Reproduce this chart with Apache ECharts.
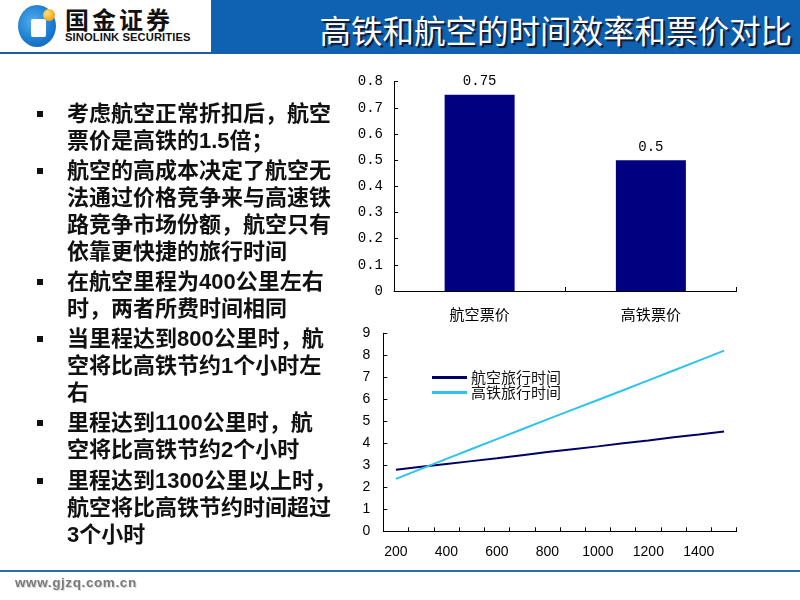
<!DOCTYPE html>
<html>
<head>
<meta charset="utf-8">
<script src="https://cdn.jsdelivr.net/npm/echarts@6/dist/echarts.min.js"></script>
<style>
  html, body { margin: 0; padding: 0; background: #fff; }
  #slide { position: relative; width: 800px; height: 600px; overflow: hidden; background: #fff; }
  #header-blue { position: absolute; left: 211px; top: 0; width: 589px; height: 53px; background: #0f62b2; }
  #header-line { position: absolute; left: 0; top: 52px; width: 800px; height: 2px; background: #1d5c9e; }
  #logo-box { position: absolute; left: 0; top: 0; width: 211px; height: 52px; background: #fff; }
  #title { position: absolute; right: 8px; top: 9px; color: #fff; font-family: "Noto Sans CJK SC", sans-serif; font-size: 31.5px; line-height: 40px; white-space: nowrap; text-shadow: 2px 2px 1px #15152a; }
  .logo-ring { position: absolute; left: 18px; top: 5px; width: 38px; height: 42px; border-radius: 50%; background: radial-gradient(circle at 40% 40%, #4fb0ec 0%, #1a78cf 60%, #0e5fb0 100%); }
  .logo-sq { position: absolute; left: 31px; top: 19px; width: 15px; height: 18px; background: #fff; border-radius: 2px; }
  .logo-dot { position: absolute; left: 43px; top: 9px; width: 12px; height: 12px; border-radius: 50%; background: radial-gradient(circle at 35% 35%, #ffe27a 0%, #f6a21a 70%, #e0860a 100%); }
  #logo-cn { position: absolute; left: 65px; top: 5px; font-family: "Noto Sans CJK SC", sans-serif; font-weight: bold; font-size: 24px; line-height: 28px; color: #111; letter-spacing: 3px; white-space: nowrap; }
  #logo-en { position: absolute; left: 65px; top: 32px; font-family: "Liberation Sans", Arial, sans-serif; font-weight: bold; font-size: 11.2px; line-height: 10px; color: #111; letter-spacing: 0.1px; white-space: nowrap; }
  #bullets { position: absolute; left: 0; top: 99.5px; width: 340px; font-family: "Liberation Sans", "Noto Sans CJK SC", sans-serif; font-weight: bold; font-size: 22px; line-height: 27px; color: #111; }
  .b { position: relative; padding-left: 67px; margin-bottom: 3px; white-space: nowrap; }
  .b::before { content: ""; position: absolute; left: 37px; top: 11px; width: 6px; height: 6px; background: #111; }
  .b.last { margin-top: 4px; }
  #footer-line { position: absolute; left: 0; top: 570px; width: 800px; height: 2px; background: #2a6ea6; }
  #footer-text { position: absolute; left: 15px; top: 575px; font-family: "Liberation Sans", Arial, sans-serif; font-weight: bold; font-size: 13.5px; line-height: 16px; color: #7a7a7a; letter-spacing: 0.6px; text-shadow: 1px 1px 0 #d8d8d8; }
  #chart { position: absolute; left: 0; top: 0; width: 800px; height: 600px; }
</style>
</head>
<body>
<div id="slide">
  <div id="chart"></div>
  <div id="header-line"></div>
  <div id="header-blue"></div>
  <div id="logo-box">
    <div class="logo-ring"></div>
    <div class="logo-sq"></div>
    <div class="logo-dot"></div>
    <div id="logo-cn">国金证券</div>
    <div id="logo-en">SINOLINK SECURITIES</div>
  </div>
  <div id="title">高铁和航空的时间效率和票价对比</div>
  <div id="bullets">
    <div class="b">考虑航空正常折扣后，航空<br>票价是高铁的1.5倍；</div>
    <div class="b">航空的高成本决定了航空无<br>法通过价格竞争来与高速铁<br>路竞争市场份额，航空只有<br>依靠更快捷的旅行时间</div>
    <div class="b">在航空里程为400公里左右<br>时，两者所费时间相同</div>
    <div class="b">当里程达到800公里时，航<br>空将比高铁节约1个小时左<br>右</div>
    <div class="b">里程达到1100公里时，航<br>空将比高铁节约2个小时</div>
    <div class="b last">里程达到1300公里以上时，<br>航空将比高铁节约时间超过<br>3个小时</div>
  </div>
  <div id="footer-line"></div>
  <div id="footer-text">www.gjzq.com.cn</div>
</div>
<script>
// ---- data ----
const priceCategories = ['航空票价', '高铁票价'];
const priceValues = [0.75, 0.5];

const distances = ['200', '300', '400', '500', '600', '700', '800', '900', '1000', '1100', '1200', '1300', '1400', '1500'];
const airTime  = [2.80, 2.93, 3.06, 3.19, 3.32, 3.46, 3.60, 3.73, 3.86, 4.00, 4.13, 4.27, 4.40, 4.54];
const railTime = [2.38, 2.84, 3.29, 3.74, 4.19, 4.64, 5.09, 5.53, 5.97, 6.41, 6.86, 7.31, 7.76, 8.21];
const lineNames = ['航空旅行时间', '高铁旅行时间'];

const chart = echarts.init(document.getElementById('chart'), null, { renderer: 'canvas' });

const axisLineStyle = { lineStyle: { color: '#000', width: 1 } };
const tickStyle = { show: true, inside: true, length: 4, lineStyle: { color: '#000', width: 1 } };

chart.setOption({
  animation: false,
  backgroundColor: 'transparent',
  grid: [
    { left: 394, right: 63.5, top: 81.7, bottom: 309 },
    { left: 383.3, right: 63.3, top: 333.3, bottom: 68.7 }
  ],
  legend: {
    orient: 'vertical',
    left: 427,
    top: 365,
    itemGap: 0,
    itemWidth: 35,
    itemHeight: 3,
    icon: 'rect',
    textStyle: { fontFamily: 'Noto Sans CJK SC', fontSize: 15, color: '#111', lineHeight: 13, padding: [0, 0, 0, -1] },
    data: lineNames
  },
  xAxis: [
    {
      type: 'category', gridIndex: 0, data: priceCategories,
      axisLine: axisLineStyle, axisTick: tickStyle,
      axisLabel: { color: '#000', fontFamily: 'Noto Sans CJK SC', fontSize: 15, margin: 16 },
      splitLine: { show: false }
    },
    {
      type: 'category', gridIndex: 1, data: distances, boundaryGap: true,
      axisLine: axisLineStyle,
      axisTick: Object.assign({ interval: 0 }, tickStyle),
      axisLabel: { interval: 1, color: '#000', fontFamily: 'Liberation Sans', fontSize: 14, margin: 14 },
      splitLine: { show: false }
    }
  ],
  yAxis: [
    {
      type: 'value', gridIndex: 0, min: 0, max: 0.8, interval: 0.1,
      axisLine: Object.assign({ show: true }, axisLineStyle), axisTick: tickStyle,
      axisLabel: { color: '#000', fontFamily: 'Liberation Mono', fontSize: 14, margin: 11 },
      splitLine: { show: false }
    },
    {
      type: 'value', gridIndex: 1, min: 0, max: 9, interval: 1,
      axisLine: Object.assign({ show: true }, axisLineStyle), axisTick: tickStyle,
      axisLabel: { color: '#000', fontFamily: 'Liberation Sans', fontSize: 14, margin: 13 },
      splitLine: { show: false }
    }
  ],
  series: [
    {
      type: 'bar', xAxisIndex: 0, yAxisIndex: 0, data: priceValues,
      barWidth: 70,
      itemStyle: { color: '#000080' },
      label: { show: true, position: 'top', distance: 6, color: '#000', fontFamily: 'Liberation Mono', fontSize: 14 }
    },
    {
      name: lineNames[0], type: 'line', xAxisIndex: 1, yAxisIndex: 1, data: airTime,
      showSymbol: false, symbol: 'none',
      lineStyle: { color: '#000066', width: 2 }, itemStyle: { color: '#000066' }
    },
    {
      name: lineNames[1], type: 'line', xAxisIndex: 1, yAxisIndex: 1, data: railTime,
      showSymbol: false, symbol: 'none',
      lineStyle: { color: '#2ec4ea', width: 2 }, itemStyle: { color: '#2ec4ea' }
    }
  ]
});
</script>
</body>
</html>
